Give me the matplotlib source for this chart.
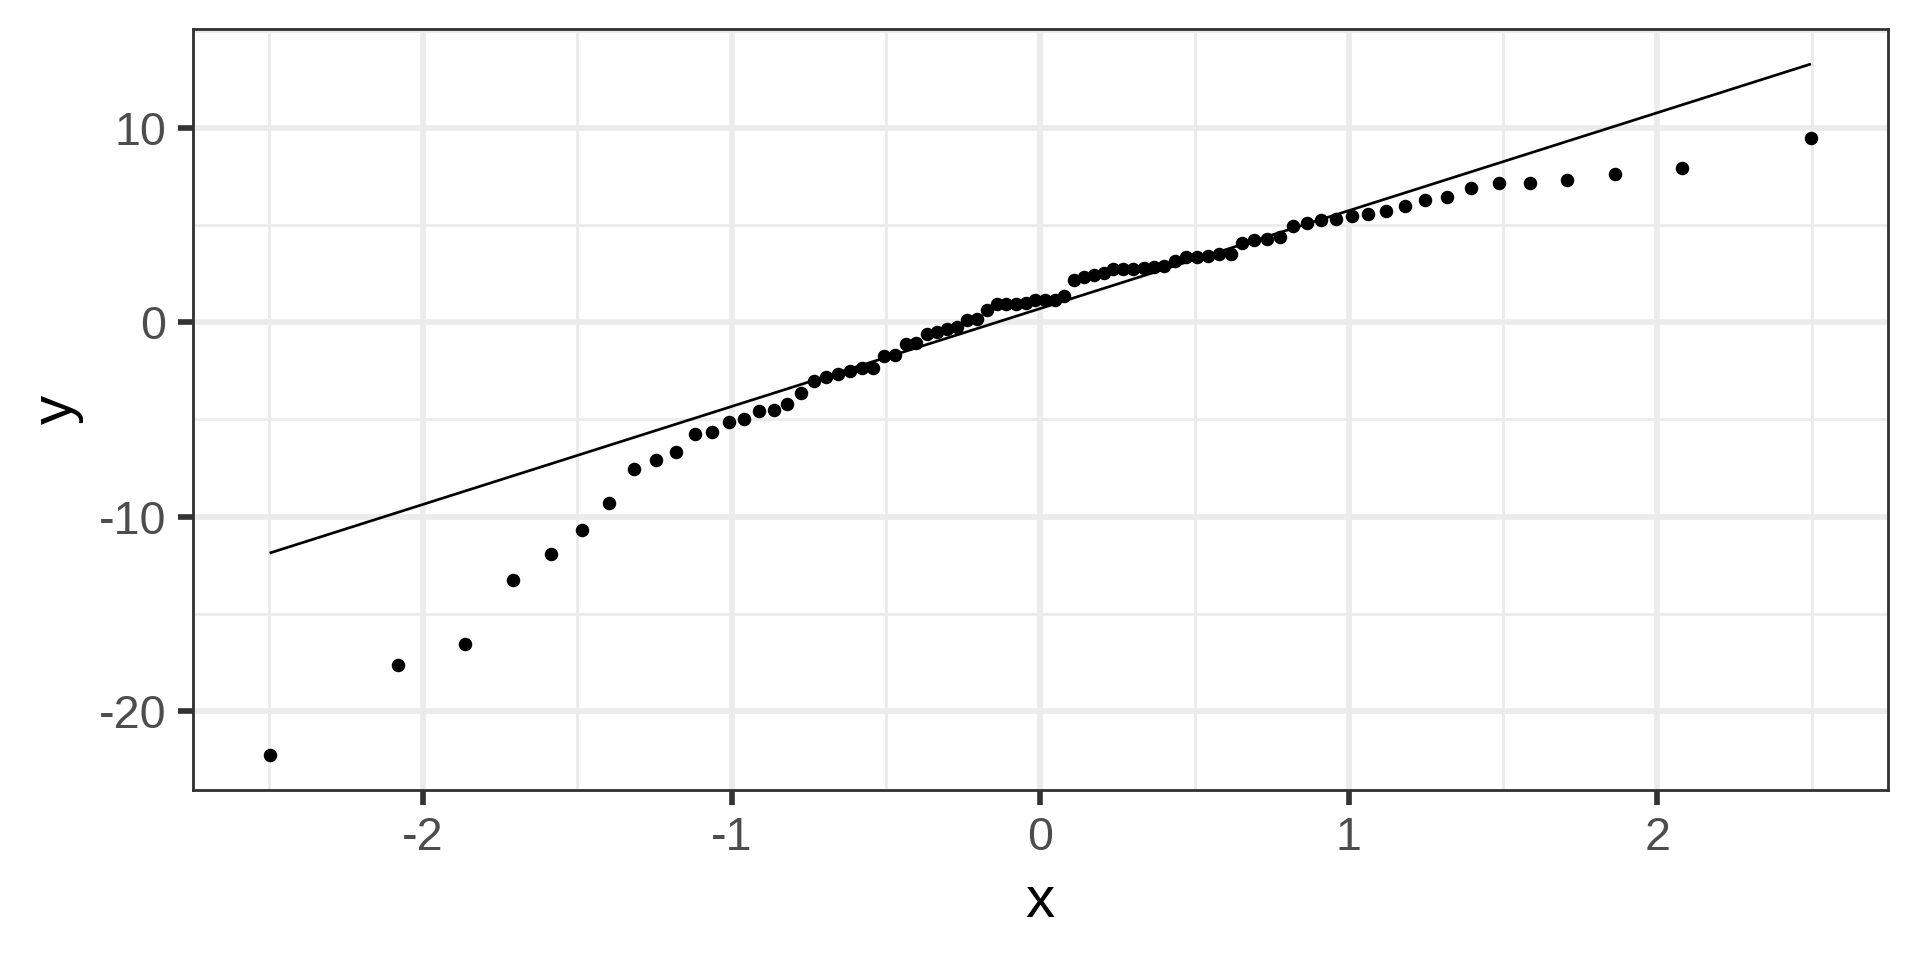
import numpy as np
import matplotlib
matplotlib.use("Agg")
import matplotlib.pyplot as plt
from matplotlib.ticker import FixedLocator
from statistics import NormalDist

# sorted sample values (normal QQ plot, n = 80)
sample = [
    -22.3, -17.67, -16.57, -13.25, -11.94, -10.72, -9.30, -7.54, -7.08, -6.69,
    -5.75, -5.66, -5.12, -5.0, -4.57, -4.54, -4.19, -3.66, -3.01, -2.82,
    -2.65, -2.5, -2.35, -2.33, -1.75, -1.68, -1.13, -1.06, -0.58, -0.51,
    -0.34, -0.24, 0.14, 0.15, 0.62, 0.92, 0.96, 0.96, 0.99, 1.16,
    1.16, 1.16, 1.37, 2.2, 2.33, 2.43, 2.55, 2.72, 2.76, 2.76,
    2.79, 2.84, 2.88, 3.13, 3.35, 3.37, 3.41, 3.49, 3.53, 4.06,
    4.25, 4.31, 4.38, 4.95, 5.12, 5.27, 5.33, 5.48, 5.58, 5.72,
    5.99, 6.30, 6.47, 6.90, 7.16, 7.19, 7.33, 7.65, 7.93, 9.49,
]
x_ticks = [-2, -1, 0, 1, 2]
x_minor = [-2.5, -1.5, -0.5, 0.5, 1.5, 2.5]
y_ticks = [-20, -10, 0, 10]
y_minor = [-15, -5, 5, 15]

GRID = "#EBEBEB"
DARK = "#333333"
TEXT = "#4D4D4D"

plt.rcParams['font.family'] = ['Liberation Sans', 'DejaVu Sans']

y = np.sort(np.array(sample))
n = len(y)
nd = NormalDist()
theo = np.array([nd.inv_cdf((i + 0.5) / n) for i in range(n)])

# qq line through the 1st and 3rd quartiles
q1, q3 = np.quantile(y, [0.25, 0.75])
t1, t3 = nd.inv_cdf(0.25), nd.inv_cdf(0.75)
slope = (q3 - q1) / (t3 - t1)
intercept = q1 - slope * t1
line_x = np.array([theo.min(), theo.max()])
line_y = intercept + slope * line_x

fig = plt.figure(figsize=(6.4, 3.2), dpi=300)
ax = fig.add_axes([192.5 / 1920, 1 - 790 / 960, (1888 - 192.5) / 1920, (790 - 29.4) / 960])

ax.plot(line_x, line_y, color="black", linewidth=0.65, zorder=3, solid_capstyle="butt")
ax.scatter(theo, y, s=10.5, color="black", linewidths=0, zorder=4)

xr = theo.max() - theo.min()
ax.set_xlim(theo.min() - 0.05 * xr, theo.max() + 0.05 * xr)
ylo = min(y.min(), line_y.min())
yhi = max(y.max(), line_y.max())
yr = yhi - ylo
ax.set_ylim(ylo - 0.05 * yr, yhi + 0.05 * yr)

ax.set_xticks(x_ticks)
ax.set_xticklabels([str(v) for v in x_ticks])
ax.set_yticks(y_ticks)
ax.set_yticklabels([str(v) for v in y_ticks])
ax.xaxis.set_minor_locator(FixedLocator(x_minor))
ax.yaxis.set_minor_locator(FixedLocator(y_minor))

ax.grid(True, which="major", color=GRID, linewidth=1.36, zorder=0)
ax.grid(True, which="minor", color=GRID, linewidth=0.68, zorder=0)
ax.set_axisbelow(True)

ax.tick_params(which="major", length=3.5, width=1.36, color=DARK,
               labelsize=11.2, labelcolor=TEXT, pad=2.8)
ax.tick_params(which="minor", length=0, width=0)

for sp in ax.spines.values():
    sp.set_color(DARK)
    sp.set_linewidth(0.68)

ax.set_xlabel("x", fontsize=14, color="black", labelpad=3.5)
ax.set_ylabel("y", fontsize=14, color="black", labelpad=3.5)

fig.savefig("out.png", dpi=300, facecolor="white")
